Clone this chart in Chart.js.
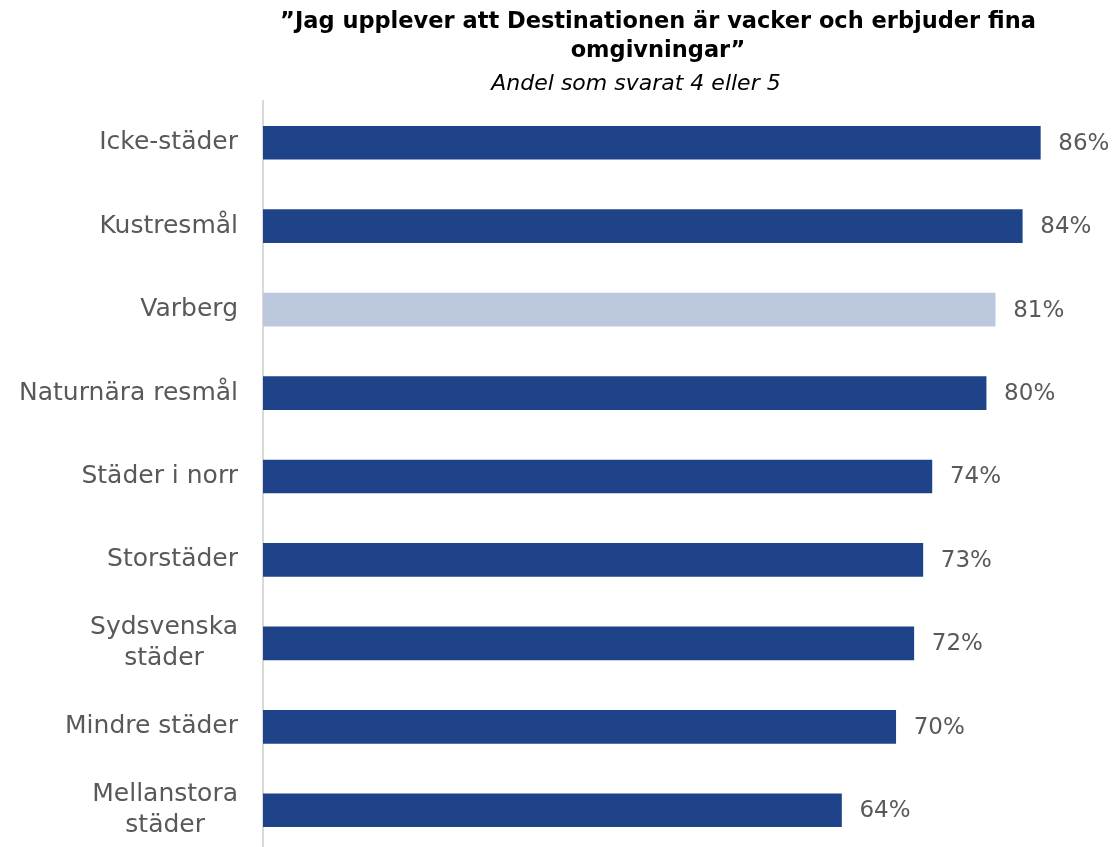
<!DOCTYPE html>
<html lang="sv">
<head>
<meta charset="UTF-8">
<title>Destinationen är vacker</title>
<script src="https://cdn.jsdelivr.net/npm/chart.js"></script>
<style>
  html, body { margin: 0; padding: 0; overflow: hidden; background: #fff; }
  #wrap { width: 1113px; height: 856px; }
</style>
</head>
<body>
<div id="wrap"><canvas id="chart"></canvas></div>
<script>
const categories = ["Icke-städer", "Kustresmål", "Varberg", "Naturnära resmål", "Städer i norr",
                    "Storstäder", ["Sydsvenska", "städer"], "Mindre städer", ["Mellanstora", "städer"]];
const values = [86, 84, 81, 80, 74, 73, 72, 70, 64];
const highlight = "Varberg";
const titleLines = ["”Jag upplever att Destinationen är vacker och erbjuder fina", "omgivningar”"];
const subtitle = "Andel som svarat 4 eller 5";

const FONT = "'DejaVu Sans', sans-serif";
const dark = "#1F4388", light = "#BCC8DD", grey = "#595959";

const barColors = categories.map(c => c === highlight ? light : dark);

// titles, category labels and value labels
const textPlugin = {
  id: "texts",
  afterDraw(chart) {
    const ctx = chart.ctx;
    const y = chart.scales.y, x = chart.scales.x;
    ctx.save();
    ctx.fillStyle = "#000";
    ctx.textAlign = "center";
    ctx.textBaseline = "middle";
    ctx.font = "bold 22.5px " + FONT;
    ctx.fillText(titleLines[0], 658, 22);
    ctx.fillText(titleLines[1], 658, 51);
    ctx.font = "italic 22px " + FONT;
    ctx.fillText(subtitle, 636, 84);

    ctx.fillStyle = grey;
    ctx.font = "25px " + FONT;
    categories.forEach((c, i) => {
      const cy = y.getPixelForValue(i);
      const lines = Array.isArray(c) ? c : [c];
      const w = Math.max(...lines.map(l => ctx.measureText(l).width));
      const lh = 31;
      lines.forEach((l, j) => {
        const ly = cy + (j - (lines.length - 1) / 2) * lh;
        if (lines.length > 1) {
          ctx.textAlign = "center";
          ctx.fillText(l, 238 - w / 2, ly);
        } else {
          ctx.textAlign = "right";
          ctx.fillText(l, 238, ly);
        }
      });
    });
    ctx.font = "23px " + FONT;
    ctx.textAlign = "left";
    values.forEach((v, i) => {
      ctx.fillText(v + "%", x.getPixelForValue(v) + 18, y.getPixelForValue(i) + 1);
    });
    ctx.restore();
  }
};

new Chart(document.getElementById("chart"), {
  type: "bar",
  data: {
    labels: categories,
    datasets: [{ data: values, backgroundColor: barColors, barThickness: 33 }]
  },
  options: {
    indexAxis: "y",
    responsive: true,
    maintainAspectRatio: false,
    animation: false,
    layout: { padding: { left: 263, top: 101, right: 13, bottom: 4 } },
    plugins: { legend: { display: false }, tooltip: { enabled: false } },
    scales: {
      x: { min: 0, max: 92.6, display: false },
      y: {
        ticks: { display: false },
        grid: { display: false, drawTicks: false },
        border: { display: true, color: "#D9D9D9", width: 2 }
      }
    }
  },
  plugins: [textPlugin]
});
</script>
</body>
</html>
